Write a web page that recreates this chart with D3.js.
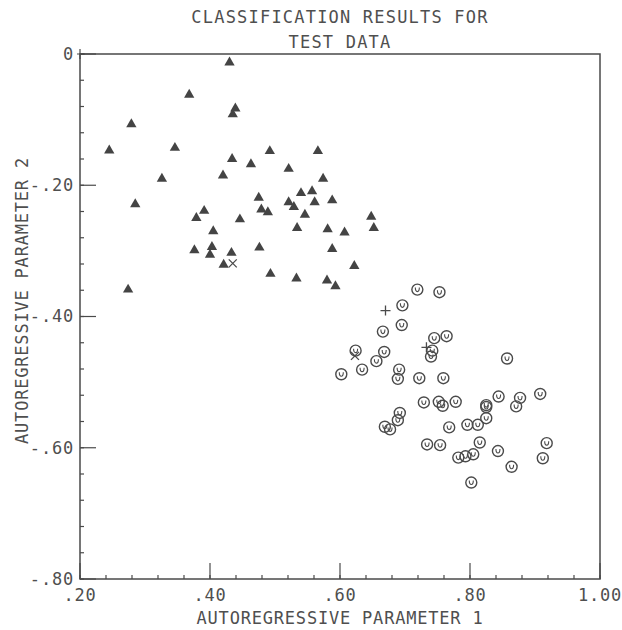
<!DOCTYPE html>
<html>
<head>
<meta charset="utf-8">
<script src="https://cdn.jsdelivr.net/npm/d3@7"></script>
<style>
  body { margin: 0; background: #fff; }
  text { font-family: "DejaVu Sans Mono", monospace; fill: #4f4f4f; letter-spacing: 0.8px; }
</style>
</head>
<body>
<div id="chart"></div>
<script>
// Class 1 (triangles): [param1, param2]
const triangles = [
  [0.430, -0.013], [0.368, -0.062], [0.439, -0.083], [0.435, -0.092], [0.279, -0.107],
  [0.245, -0.147], [0.346, -0.143], [0.434, -0.160], [0.492, -0.148], [0.566, -0.148],
  [0.463, -0.168], [0.521, -0.175], [0.326, -0.190], [0.420, -0.185], [0.574, -0.190],
  [0.540, -0.212], [0.557, -0.209], [0.285, -0.229], [0.475, -0.219], [0.521, -0.226],
  [0.529, -0.233], [0.561, -0.226], [0.588, -0.223], [0.391, -0.239], [0.479, -0.237],
  [0.489, -0.241], [0.379, -0.250], [0.446, -0.252], [0.546, -0.245], [0.648, -0.248],
  [0.652, -0.265], [0.405, -0.270], [0.534, -0.265], [0.581, -0.267], [0.607, -0.272],
  [0.376, -0.299], [0.403, -0.294], [0.400, -0.306], [0.433, -0.303], [0.476, -0.295],
  [0.588, -0.297], [0.421, -0.321], [0.622, -0.323], [0.493, -0.335], [0.533, -0.342],
  [0.580, -0.345], [0.593, -0.354], [0.274, -0.359]
];

// Class 2 (circles)
const circles = [
  [0.719, -0.359], [0.753, -0.363], [0.696, -0.383], [0.695, -0.413], [0.666, -0.423],
  [0.745, -0.433], [0.764, -0.430], [0.624, -0.452], [0.668, -0.454], [0.742, -0.452],
  [0.740, -0.461], [0.857, -0.464], [0.656, -0.468], [0.602, -0.488], [0.634, -0.481],
  [0.691, -0.481], [0.689, -0.495], [0.722, -0.494], [0.759, -0.494], [0.729, -0.531],
  [0.752, -0.530], [0.758, -0.536], [0.778, -0.530], [0.825, -0.535], [0.825, -0.538],
  [0.844, -0.522], [0.877, -0.524], [0.871, -0.537], [0.908, -0.518], [0.692, -0.547],
  [0.689, -0.558], [0.669, -0.568], [0.677, -0.572], [0.825, -0.555], [0.768, -0.569],
  [0.796, -0.565], [0.812, -0.565], [0.734, -0.595], [0.754, -0.596], [0.815, -0.592],
  [0.843, -0.605], [0.918, -0.593], [0.912, -0.616], [0.782, -0.615], [0.793, -0.613],
  [0.805, -0.610], [0.864, -0.629], [0.802, -0.653]
];

// Misclassified markers
const plusPoints = [[0.670, -0.391], [0.733, -0.447]];
const crossPoints = [[0.435, -0.319], [0.623, -0.460]];

const xTickValues = [0.2, 0.4, 0.6, 0.8, 1.0];
const xTickLabels = ['.20', '.40', '.60', '.80', '1.00'];
const yTickValues = [0, -0.2, -0.4, -0.6, -0.8];
const yTickLabels = ['0', '-.20', '-.40', '-.60', '-.80'];
const titleLines = ['CLASSIFICATION RESULTS FOR', 'TEST DATA'];
const xTitle = 'AUTOREGRESSIVE PARAMETER 1';
const yTitle = 'AUTOREGRESSIVE PARAMETER 2';

const W = 622, H = 630;
const margin = { top: 54, right: 22, bottom: 51, left: 80 };
const width = W - margin.left - margin.right;
const height = H - margin.top - margin.bottom;
const ink = '#4a4a4a';

const svg = d3.select('#chart').append('svg')
  .attr('width', W).attr('height', H);
const g = svg.append('g')
  .attr('transform', `translate(${margin.left},${margin.top})`);

const x = d3.scaleLinear().domain([0.2, 1.0]).range([0, width]);
const y = d3.scaleLinear().domain([0, -0.8]).range([0, height]);

// Frame
g.append('rect')
  .attr('width', width).attr('height', height)
  .attr('fill', 'none').attr('stroke', ink).attr('stroke-width', 1.5);

// Minor ticks every 0.04 (inside)
const minor = d3.range(0, 21).map(i => i * 0.04);
g.append('g').selectAll('line').data(minor.map(v => 0.2 + v)).join('line')
  .attr('x1', d => x(d)).attr('x2', d => x(d))
  .attr('y1', height).attr('y2', height - 4)
  .attr('stroke', ink).attr('stroke-width', 1.2);
g.append('g').selectAll('line').data(minor.map(v => -v)).join('line')
  .attr('x1', 0).attr('x2', 4)
  .attr('y1', d => y(d)).attr('y2', d => y(d))
  .attr('stroke', ink).attr('stroke-width', 1.2);

// Major ticks
g.append('g').selectAll('line').data(xTickValues).join('line')
  .attr('x1', d => x(d)).attr('x2', d => x(d))
  .attr('y1', height).attr('y2', height - 16)
  .attr('stroke', ink).attr('stroke-width', 1.2);
g.append('g').selectAll('line').data(yTickValues).join('line')
  .attr('x1', 0).attr('x2', 16)
  .attr('y1', d => y(d)).attr('y2', d => y(d))
  .attr('stroke', ink).attr('stroke-width', 1.2);

// Tick labels
g.append('g').selectAll('text').data(xTickValues).join('text')
  .attr('x', d => x(d)).attr('y', height + 22)
  .attr('text-anchor', 'middle')
  .style('font-size', '17px')
  .text((d, i) => xTickLabels[i]);
g.append('g').selectAll('text').data(yTickValues).join('text')
  .attr('x', -6).attr('y', d => y(d)).attr('dy', '0.35em')
  .attr('text-anchor', 'end')
  .style('font-size', '17px')
  .text((d, i) => yTickLabels[i]);

// Axis titles
g.append('text')
  .attr('x', width / 2).attr('y', height + 45)
  .attr('text-anchor', 'middle')
  .style('font-size', '17px')
  .text(xTitle);
g.append('text')
  .attr('transform', `translate(${22 - margin.left},${height / 2 - 16}) rotate(-90)`)
  .attr('text-anchor', 'middle')
  .attr('dy', '0.35em')
  .style('font-size', '17px')
  .text(yTitle);

// Title
svg.append('g').selectAll('text').data(titleLines).join('text')
  .attr('x', margin.left + width / 2)
  .attr('y', (d, i) => 23 + i * 25)
  .attr('text-anchor', 'middle')
  .style('font-size', '17px')
  .style('letter-spacing', '1.2px')
  .text(d => d);

// Triangles
const tri = d3.symbol().type(d3.symbolTriangle).size(46);
g.append('g').selectAll('path').data(triangles).join('path')
  .attr('transform', d => `translate(${x(d[0])},${y(d[1])})`)
  .attr('d', tri)
  .attr('fill', '#444');

// Circles with inner cup
const cg = g.append('g').selectAll('g').data(circles).join('g')
  .attr('transform', d => `translate(${x(d[0])},${y(d[1])})`);
cg.append('circle').attr('r', 5.5)
  .attr('fill', 'none').attr('stroke', ink).attr('stroke-width', 1.4);
cg.append('path').attr('d', 'M-2,-2 Q-2,2 0,2 Q2,2 2,-2')
  .attr('fill', 'none').attr('stroke', ink).attr('stroke-width', 1.1);

// Plus markers
g.append('g').selectAll('path').data(plusPoints).join('path')
  .attr('transform', d => `translate(${x(d[0])},${y(d[1])})`)
  .attr('d', 'M-5,0H5M0,-5V5')
  .attr('stroke', ink).attr('stroke-width', 1.3);

// Cross markers
g.append('g').selectAll('path').data(crossPoints).join('path')
  .attr('transform', d => `translate(${x(d[0])},${y(d[1])})`)
  .attr('d', 'M-4,-4L4,4M-4,4L4,-4')
  .attr('stroke', ink).attr('stroke-width', 1.3);

// Small corner mark at origin
g.append('path').attr('d', 'M0,-5V5M-3,0H5')
  .attr('stroke', ink).attr('stroke-width', 1.2);
</script>
</body>
</html>
